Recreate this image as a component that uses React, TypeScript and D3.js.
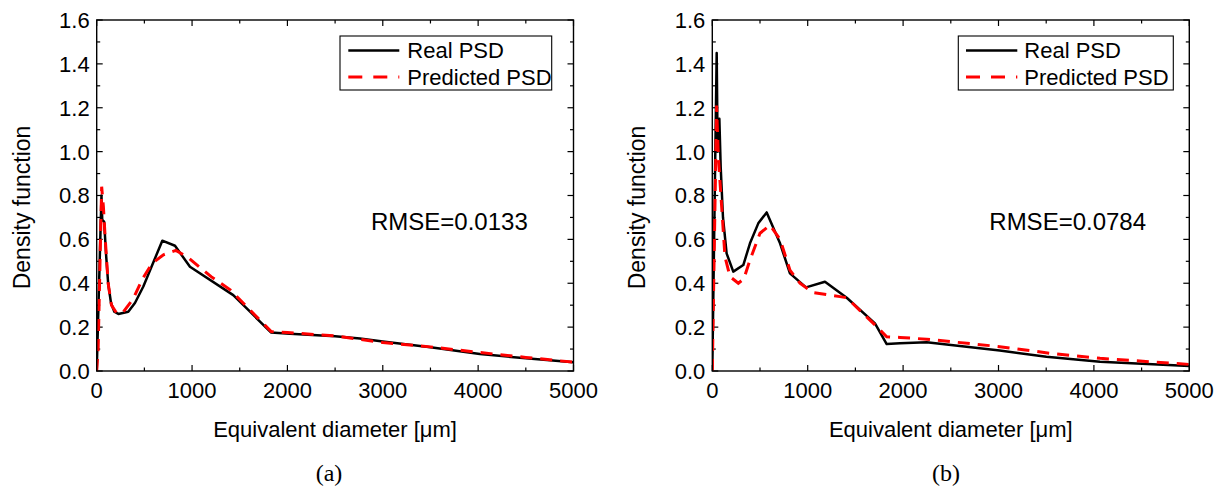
import React from 'react';
import * as d3 from 'd3';

// ---------- axis ticks / labels ----------
const xTickValues = [0, 1000, 2000, 3000, 4000, 5000];
const xTickLabels = ['0', '1000', '2000', '3000', '4000', '5000'];
const yTickValues = [0, 0.2, 0.4, 0.6, 0.8, 1.0, 1.2, 1.4, 1.6];
const yTickLabels = ['0.0', '0.2', '0.4', '0.6', '0.8', '1.0', '1.2', '1.4', '1.6'];

// ---------- panel (a) ----------
const realA_x = [0, 50, 58, 78, 100, 120, 150, 185, 227, 331, 401, 489, 688, 821, 978, 1432, 1827, 2026, 2500, 2760, 3000, 3500, 4018, 4500, 5000];
const realA_y = [0, 0.80, 0.69, 0.68, 0.52, 0.40, 0.31, 0.27, 0.26, 0.27, 0.31, 0.385, 0.594, 0.571, 0.475, 0.346, 0.176, 0.17, 0.158, 0.148, 0.134, 0.108, 0.077, 0.058, 0.04];
const predA_x = [0, 15, 35, 52, 70, 90, 120, 155, 210, 280, 384, 480, 580, 700, 830, 950, 1200, 1400, 1830, 2000, 2500, 3000, 3500, 4000, 4500, 5000];
const predA_y = [0, 0.1, 0.5, 0.84, 0.75, 0.6, 0.40, 0.30, 0.263, 0.27, 0.33, 0.42, 0.49, 0.53, 0.55, 0.52, 0.43, 0.37, 0.18, 0.175, 0.16, 0.13, 0.11, 0.085, 0.062, 0.04];

// ---------- panel (b) ----------
const realB_x = [0, 46, 56, 74, 88, 112, 150, 220, 325, 395, 482, 570, 710, 814, 982, 1181, 1409, 1705, 1828, 1967, 2247, 3013, 3502, 4064, 5000];
const realB_y = [0, 1.45, 1.0, 1.15, 0.93, 0.70, 0.536, 0.453, 0.483, 0.582, 0.673, 0.723, 0.582, 0.445, 0.381, 0.407, 0.334, 0.217, 0.123, 0.126, 0.131, 0.093, 0.065, 0.042, 0.023];
const predB_x = [0, 45, 63, 98, 133, 186, 273, 330, 395, 500, 605, 710, 814, 919, 1059, 1339, 1409, 1705, 1828, 1967, 2247, 3013, 3537, 4064, 5000];
const predB_y = [0, 1.21, 0.98, 0.75, 0.52, 0.43, 0.40, 0.42, 0.506, 0.628, 0.665, 0.60, 0.46, 0.40, 0.357, 0.339, 0.334, 0.21, 0.156, 0.153, 0.145, 0.111, 0.081, 0.058, 0.03];

const legendLabels = ['Real PSD', 'Predicted PSD'];

const SANS = "'Liberation Sans', Arial, Helvetica, sans-serif";
const SERIF = "'Liberation Serif', 'Times New Roman', Times, serif";

type PanelProps = {
  id: string;
  left: number;
  right: number;
  top: number;
  bottom: number;
  realX: number[];
  realY: number[];
  predX: number[];
  predY: number[];
  rmse: string;
  rmseX: number;
  rmseY: number;
  legend: { x0: number; x1: number; y0: number; y1: number; lx0: number; lx1: number; tx: number };
  label: string;
  labelX: number;
  yTitleX: number;
};

function Panel(p: PanelProps) {
  const x = d3.scaleLinear().domain([0, 5000]).range([p.left, p.right]);
  const y = d3.scaleLinear().domain([0, 1.6]).range([p.bottom, p.top]);
  const line = d3
    .line<[number, number]>()
    .x((d) => x(d[0]))
    .y((d) => y(d[1]))
    .curve(d3.curveLinear);
  const realPts = p.realX.map((v, i) => [v, p.realY[i]] as [number, number]);
  const predPts = p.predX.map((v, i) => [v, p.predY[i]] as [number, number]);

  const xMinor = d3.range(0, 5001, 500).filter((v) => v % 1000 !== 0);
  const yMinor = d3.range(1, 16, 2).map((v) => v / 10);
  const MAJ = 6;
  const MIN = 3.5;
  const cx = (p.left + p.right) / 2;
  const cy = 207.5;

  return (
    <g>
      <defs>
        <clipPath id={`clip-${p.id}`}>
          <rect x={p.left} y={p.top} width={p.right - p.left} height={p.bottom - p.top} />
        </clipPath>
      </defs>
      {/* ticks */}
      <g stroke="#000" strokeWidth={1.2}>
        {xTickValues.map((v) => (
          <g key={`xm${v}`}>
            <line x1={x(v)} x2={x(v)} y1={p.bottom} y2={p.bottom - MAJ} />
            <line x1={x(v)} x2={x(v)} y1={p.top} y2={p.top + MAJ} />
          </g>
        ))}
        {xMinor.map((v) => (
          <g key={`xn${v}`}>
            <line x1={x(v)} x2={x(v)} y1={p.bottom} y2={p.bottom - MIN} />
            <line x1={x(v)} x2={x(v)} y1={p.top} y2={p.top + MIN} />
          </g>
        ))}
        {yTickValues.map((v) => (
          <g key={`ym${v}`}>
            <line x1={p.left} x2={p.left + MAJ} y1={y(v)} y2={y(v)} />
            <line x1={p.right} x2={p.right - MAJ} y1={y(v)} y2={y(v)} />
          </g>
        ))}
        {yMinor.map((v) => (
          <g key={`yn${v}`}>
            <line x1={p.left} x2={p.left + MIN} y1={y(v)} y2={y(v)} />
            <line x1={p.right} x2={p.right - MIN} y1={y(v)} y2={y(v)} />
          </g>
        ))}
      </g>
      {/* data */}
      <g clipPath={`url(#clip-${p.id})`}>
        <path d={line(realPts) || ''} fill="none" stroke="#000" strokeWidth={2.5} strokeLinejoin="round" />
        <path d={line(predPts) || ''} fill="none" stroke="#ff0000" strokeWidth={3} strokeDasharray="12,8" />
      </g>
      {/* frame */}
      <rect x={p.left} y={p.top} width={p.right - p.left} height={p.bottom - p.top} fill="none" stroke="#000" strokeWidth={1.4} />
      {/* tick labels */}
      <g fontFamily={SANS} fontSize={22} fill="#000">
        {xTickValues.map((v, i) => (
          <text key={`xl${v}`} x={x(v)} y={398} textAnchor="middle">
            {xTickLabels[i]}
          </text>
        ))}
        {yTickValues.map((v, i) => (
          <text key={`yl${v}`} x={p.left - 7} y={y(v)} dy="0.36em" textAnchor="end">
            {yTickLabels[i]}
          </text>
        ))}
      </g>
      {/* axis titles */}
      <text x={cx} y={437} textAnchor="middle" fontFamily={SANS} fontSize={22}>
        Equivalent diameter [μm]
      </text>
      <text
        transform={`translate(${p.yTitleX},${cy}) rotate(-90)`}
        textAnchor="middle"
        fontFamily={SANS}
        fontSize={23}
      >
        Density function
      </text>
      {/* RMSE */}
      <text x={p.rmseX} y={p.rmseY} fontFamily={SANS} fontSize={24}>
        {p.rmse}
      </text>
      {/* legend */}
      <rect
        x={p.legend.x0}
        y={p.legend.y0}
        width={p.legend.x1 - p.legend.x0}
        height={p.legend.y1 - p.legend.y0}
        fill="#fff"
        stroke="#000"
        strokeWidth={1.1}
      />
      <line x1={p.legend.lx0} x2={p.legend.lx1} y1={50.5} y2={50.5} stroke="#000" strokeWidth={2.5} />
      <line x1={p.legend.lx0} x2={p.legend.lx1} y1={77} y2={77} stroke="#ff0000" strokeWidth={3} strokeDasharray="14,11" />
      <text x={p.legend.tx} y={58.3} fontFamily={SANS} fontSize={22}>
        {legendLabels[0]}
      </text>
      <text x={p.legend.tx} y={85} fontFamily={SANS} fontSize={22}>
        {legendLabels[1]}
      </text>
      {/* panel label */}
      <text x={p.labelX} y={481} textAnchor="middle" fontFamily={SERIF} fontSize={24}>
        {p.label}
      </text>
    </g>
  );
}

export default function App() {
  return (
    <svg
      width={1224}
      height={488}
      viewBox="0 0 1224 488"
      style={{ position: 'absolute', left: 0, top: 0, background: '#fff' }}
    >
      <rect x={0} y={0} width={1224} height={488} fill="#fff" />
      <Panel
        id="a"
        left={96.7}
        right={573.5}
        top={20}
        bottom={371}
        realX={realA_x}
        realY={realA_y}
        predX={predA_x}
        predY={predA_y}
        rmse="RMSE=0.0133"
        rmseX={371}
        rmseY={230}
        legend={{ x0: 340, x1: 551.7, y0: 36, y1: 90, lx0: 348.3, lx1: 399.3, tx: 407.3 }}
        label="(a)"
        labelX={329}
        yTitleX={29.5}
      />
      <Panel
        id="b"
        left={712.3}
        right={1189.3}
        top={20}
        bottom={371}
        realX={realB_x}
        realY={realB_y}
        predX={predB_x}
        predY={predB_y}
        rmse="RMSE=0.0784"
        rmseX={989.3}
        rmseY={229.5}
        legend={{ x0: 958.3, x1: 1173.3, y0: 36, y1: 90, lx0: 966, lx1: 1017.3, tx: 1024.3 }}
        label="(b)"
        labelX={946}
        yTitleX={645}
      />
    </svg>
  );
}
